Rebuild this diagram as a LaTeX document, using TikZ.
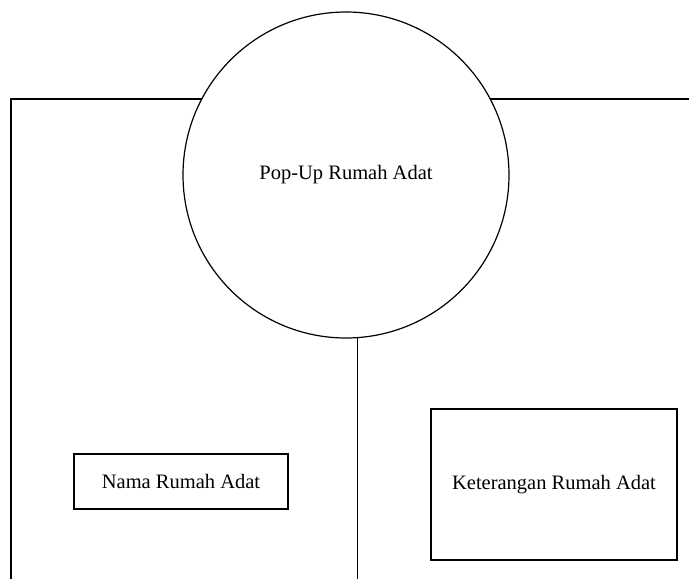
\documentclass[tikz,border=0pt]{standalone}
\usepackage{fontspec}
\setmainfont{Liberation Serif}
\begin{document}
\begin{tikzpicture}[x=1pt,y=-1pt,
  line/.style={draw=black,line width=1.2pt},
  lbl/.style={font=\fontsize{20.5}{24}\selectfont,inner sep=0pt},
  box/.style={line,lbl,rectangle,fill=white}]
\useasboundingbox (0,0) rectangle (689,579);
\clip (0,0) rectangle (689,579);
\draw[line] (11,600) -- (11,99) -- (700,99);
\node[line,lbl,circle,fill=white,minimum size=326pt] (pop) at (346,175) {Pop-Up Rumah Adat};
\coordinate (vbot) at (355,590);
\draw[line] (pop.-86.8) -- (pop.-86.8 |- vbot);
\node[box,minimum width=214pt,minimum height=55pt] (nama) at (181,481.5) {Nama Rumah Adat};
\node[box,minimum width=246pt,minimum height=151pt] (ket) at (554,484.5) {Keterangan Rumah Adat};
\end{tikzpicture}
\end{document}
